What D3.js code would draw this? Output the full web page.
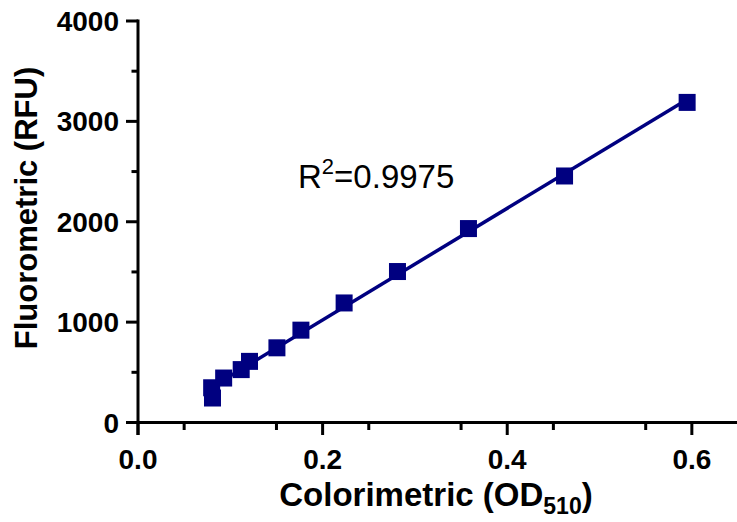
<!DOCTYPE html>
<html>
<head>
<meta charset="utf-8">
<script src="https://cdn.jsdelivr.net/npm/d3@7"></script>
<style>
  html, body { margin: 0; padding: 0; background: #fff; }
  svg text { font-family: "Liberation Sans", Arial, sans-serif; }
</style>
</head>
<body>
<svg id="chart" width="737" height="522"></svg>
<script>
// Paired measurements: colorimetric absorbance vs fluorometric signal
const colorimetric = [0.0798, 0.0807, 0.0928, 0.1118, 0.1208, 0.1505, 0.1765, 0.2233, 0.2811, 0.3580, 0.4621, 0.5949];
const fluorometric = [346, 244, 443, 527, 609, 744, 920, 1191, 1504, 1932, 2456, 3189];

const xTickValues = [0.0, 0.2, 0.4, 0.6];
const xTickLabels = ["0.0", "0.2", "0.4", "0.6"];
const yTickValues = [0, 1000, 2000, 3000, 4000];
const yTickLabels = ["0", "1000", "2000", "3000", "4000"];
const rSquaredLabel = "0.9975";

const navy = "#000080";

const svg = d3.select("#chart");

const x = d3.scaleLinear().domain([0, 0.65]).range([138, 738]);
const y = d3.scaleLinear().domain([0, 4000]).range([422.5, 21]);

// Minor ticks halfway between the labelled ones
const xMinor = d3.range(0.05, 0.65, 0.1);
const yMinor = d3.range(500, 4000, 1000);

const axisStroke = 3;

// X axis
const gx = svg.append("g").attr("transform", `translate(0,${y(0)})`);
gx.append("line").attr("x1", x(0) - 12).attr("x2", 737).attr("y1", 0).attr("y2", 0)
  .attr("stroke", "#000").attr("stroke-width", axisStroke);
gx.selectAll("line.maj").data(xTickValues).join("line").attr("class", "maj")
  .attr("x1", d => x(d)).attr("x2", d => x(d)).attr("y1", 0).attr("y2", 12.5)
  .attr("stroke", "#000").attr("stroke-width", axisStroke);
gx.selectAll("line.min").data(xMinor).join("line").attr("class", "min")
  .attr("x1", d => x(d)).attr("x2", d => x(d)).attr("y1", 0).attr("y2", 7.5)
  .attr("stroke", "#000").attr("stroke-width", axisStroke);
gx.selectAll("text").data(xTickValues).join("text")
  .attr("x", d => x(d)).attr("y", 46)
  .attr("text-anchor", "middle")
  .attr("font-size", 28).attr("font-weight", "bold")
  .text((d, i) => xTickLabels[i]);

// Y axis
const gy = svg.append("g").attr("transform", `translate(${x(0)},0)`);
gy.append("line").attr("x1", 0).attr("x2", 0).attr("y1", y(4000) - 1.5).attr("y2", y(0) + 12.5)
  .attr("stroke", "#000").attr("stroke-width", axisStroke);
gy.selectAll("line.maj").data(yTickValues).join("line").attr("class", "maj")
  .attr("x1", -12).attr("x2", 0).attr("y1", d => y(d)).attr("y2", d => y(d))
  .attr("stroke", "#000").attr("stroke-width", axisStroke);
gy.selectAll("line.min").data(yMinor).join("line").attr("class", "min")
  .attr("x1", -6.5).attr("x2", 0).attr("y1", d => y(d)).attr("y2", d => y(d))
  .attr("stroke", "#000").attr("stroke-width", axisStroke);
gy.selectAll("text").data(yTickValues).join("text")
  .attr("x", -19).attr("y", d => y(d) + 10)
  .attr("text-anchor", "end")
  .attr("font-size", 28).attr("font-weight", "bold")
  .text((d, i) => yTickLabels[i]);

// Axis titles
const xTitle = svg.append("text")
  .attr("x", 436).attr("y", 506)
  .attr("text-anchor", "middle")
  .attr("font-size", 33).attr("font-weight", "bold");
xTitle.append("tspan").text("Colorimetric (OD");
xTitle.append("tspan").attr("font-size", 23).attr("dy", 8).text("510");
xTitle.append("tspan").attr("dy", -8).text(")");

svg.append("text")
  .attr("transform", "translate(37,208) rotate(-90)")
  .attr("text-anchor", "middle")
  .attr("font-size", 31).attr("font-weight", "bold")
  .text("Fluorometric (RFU)");

// Least-squares fit through the measurements
const n = colorimetric.length;
const mx = d3.mean(colorimetric), my = d3.mean(fluorometric);
let sxy = 0, sxx = 0;
for (let i = 0; i < n; i++) {
  sxy += (colorimetric[i] - mx) * (fluorometric[i] - my);
  sxx += (colorimetric[i] - mx) ** 2;
}
const slope = sxy / sxx, intercept = my - slope * mx;
const [xmin, xmax] = d3.extent(colorimetric);

svg.append("line")
  .attr("x1", x(xmin)).attr("y1", y(intercept + slope * xmin))
  .attr("x2", x(xmax)).attr("y2", y(intercept + slope * xmax))
  .attr("stroke", navy).attr("stroke-width", 3.5);

// Square markers
const size = 17;
svg.selectAll("rect.pt").data(colorimetric).join("rect").attr("class", "pt")
  .attr("x", d => x(d) - size / 2)
  .attr("y", (d, i) => y(fluorometric[i]) - size / 2)
  .attr("width", size).attr("height", size)
  .attr("fill", navy);

// Goodness of fit annotation
const r2 = svg.append("text").attr("x", 298).attr("y", 188)
  .attr("font-size", 33);
r2.append("tspan").text("R");
r2.append("tspan").attr("font-size", 22).attr("dy", -14).text("2");
r2.append("tspan").attr("dy", 14).text("=" + rSquaredLabel);
</script>
</body>
</html>
